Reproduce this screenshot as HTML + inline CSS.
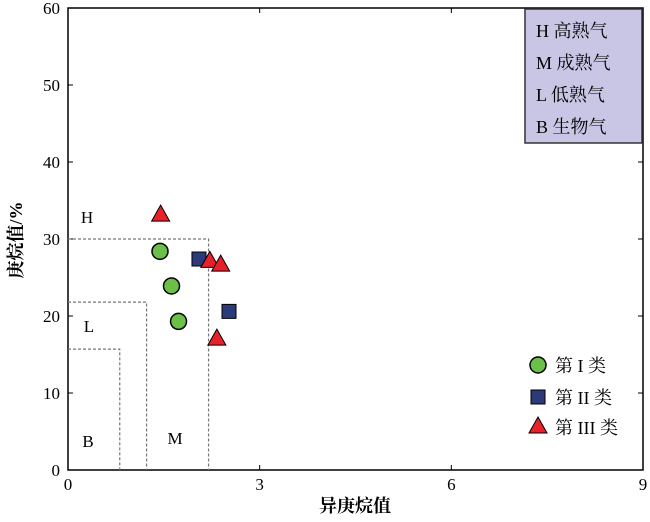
<!DOCTYPE html>
<html><head><meta charset="utf-8">
<style>
body{margin:0;background:#fff;}
svg text{font-family:"Liberation Serif","Noto Serif CJK SC",serif;}
</style></head>
<body>
<svg id="chart" width="650" height="517" xmlns="http://www.w3.org/2000/svg"></svg>
<script>
const xTicks=[0,3,6,9];
const yTicks=[0,10,20,30,40,50,60];
const class1X=[1.44,1.62,1.73];
const class1Y=[28.4,23.9,19.3];
const class2X=[2.05,2.52];
const class2Y=[27.4,20.6];
const class3X=[1.45,2.22,2.39,2.33];
const class3Y=[33.1,27.1,26.6,17.0];
const regionH=[2.2,30];
const regionL=[1.23,21.8];
const regionB=[0.81,15.7];

const X0=68,X1=643,Y0=470,Y1=8;
const sx=v=>X0+(X1-X0)*v/9;
const sy=v=>Y0-(Y0-Y1)*v/60;
const svg=document.getElementById('chart');
const NS='http://www.w3.org/2000/svg';
function mk(tag,attrs,name,text){
  const e=document.createElementNS(NS,tag);
  for(const k in attrs)e.setAttribute(k,attrs[k]);
  
  
  if(text!==undefined)e.textContent=text;
  svg.appendChild(e);return e;
}
// frame
mk('rect',{x:X0,y:Y1,width:X1-X0,height:Y0-Y1,fill:'none',stroke:'#000','stroke-width':1.5},'plot-frame');
xTicks.forEach(t=>{
  mk('line',{x1:sx(t),x2:sx(t),y1:Y0,y2:Y0-5,stroke:'#000'},'x-tick');
  mk('line',{x1:sx(t),x2:sx(t),y1:Y1,y2:Y1+5,stroke:'#000'},'x-tick-top');
  mk('text',{x:sx(t),y:Y0+20,'text-anchor':'middle','font-size':17},'x-tick-label',t);
});
yTicks.forEach(t=>{
  mk('line',{x1:X0,x2:X0+5,y1:sy(t),y2:sy(t),stroke:'#000'},'y-tick');
  mk('line',{x1:X1,x2:X1-5,y1:sy(t),y2:sy(t),stroke:'#000'},'y-tick-right');
  mk('text',{x:X0-8,y:sy(t)+6,'text-anchor':'end','font-size':17},'y-tick-label',t);
});
mk('text',{x:355,y:512,'text-anchor':'middle','font-size':18,'font-weight':'bold'},'x-axis-title','异庚烷值');
mk('text',{x:0,y:0,'text-anchor':'middle','font-size':18,'font-weight':'bold',transform:'translate(22,240) rotate(-90)'},'y-axis-title','庚烷值/%');
// regions
const ds={fill:'none',stroke:'#777','stroke-width':1.2,'stroke-dasharray':'3,2'};
mk('polyline',Object.assign({points:`${sx(0)},${sy(regionH[1])} ${sx(regionH[0])},${sy(regionH[1])} ${sx(regionH[0])},${sy(0)}`},ds),'region-h-boundary');
mk('polyline',Object.assign({points:`${sx(0)},${sy(regionL[1])} ${sx(regionL[0])},${sy(regionL[1])} ${sx(regionL[0])},${sy(0)}`},ds),'region-l-boundary');
mk('polyline',Object.assign({points:`${sx(0)},${sy(regionB[1])} ${sx(regionB[0])},${sy(regionB[1])} ${sx(regionB[0])},${sy(0)}`},ds),'region-b-boundary');
mk('text',{x:87,y:223,'text-anchor':'middle','font-size':17},'region-h-label','H');
mk('text',{x:89,y:332,'text-anchor':'middle','font-size':17},'region-l-label','L');
mk('text',{x:88,y:447,'text-anchor':'middle','font-size':17},'region-b-label','B');
mk('text',{x:175,y:444,'text-anchor':'middle','font-size':17},'region-m-label','M');
// legend box
mk('rect',{x:525,y:9,width:117,height:134,fill:'#c8c6e4',stroke:'#333','stroke-width':1.5},'region-legend-box');
['H 高熟气','M 成熟气','L 低熟气','B 生物气'].forEach((s,i)=>
  mk('text',{x:536,y:37+i*32,'font-size':18},'region-legend-entry',s));
// markers
function circ(x,y,name){mk('circle',{cx:x,cy:y,r:8,fill:'#6cc04a',stroke:'#000','stroke-width':1.5},name);}
function sq(x,y,name){mk('rect',{x:x-7,y:y-7,width:14,height:14,fill:'#2b3a78',stroke:'#000','stroke-width':1},name);}
function tri(x,y,name){mk('polygon',{points:`${x},${y-10} ${x+9},${y+6} ${x-9},${y+6}`,fill:'#e8202a',stroke:'#000','stroke-width':1},name);}
class1X.forEach((v,i)=>circ(sx(v),sy(class1Y[i]),'class-1-point'));
class2X.forEach((v,i)=>sq(sx(v),sy(class2Y[i]),'class-2-point'));
class3X.forEach((v,i)=>tri(sx(v),sy(class3Y[i]),'class-3-point'));
// series legend
circ(538,365,'legend-class-1-marker');
mk('text',{x:555,y:372,'font-size':18},'legend-class-1-label','第 I 类');
sq(538,397,'legend-class-2-marker');
mk('text',{x:555,y:404,'font-size':18},'legend-class-2-label','第 II 类');
tri(538,427,'legend-class-3-marker');
mk('text',{x:555,y:434,'font-size':18},'legend-class-3-label','第 III 类');
</script>
</body></html>
